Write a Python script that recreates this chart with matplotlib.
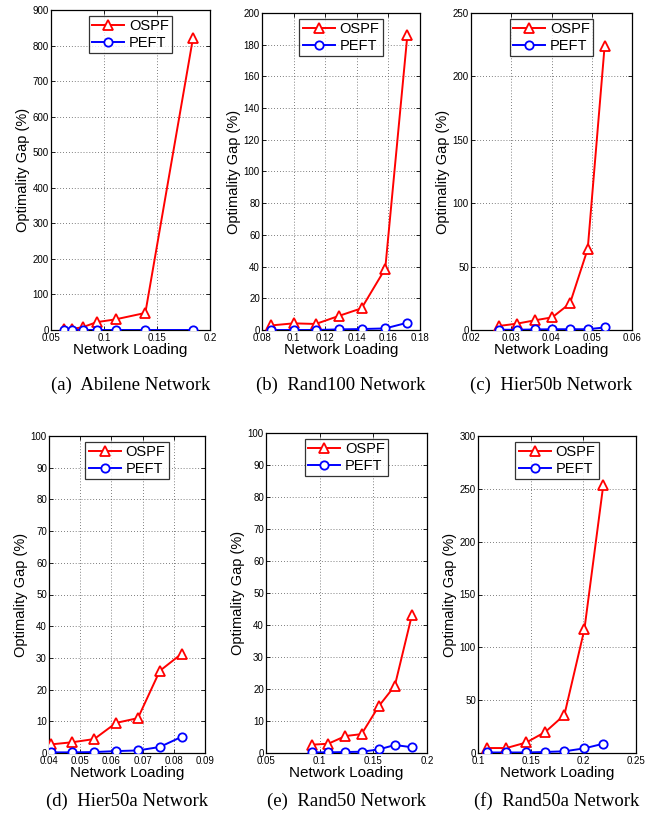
import matplotlib
matplotlib.use("Agg")
import matplotlib.pyplot as plt
from matplotlib.ticker import FormatStrFormatter, MultipleLocator
import numpy as np

plt.rcParams['font.family'] = ['Liberation Sans', 'DejaVu Sans']

# ---------------- data ----------------
captions = ["(a)  Abilene Network", "(b)  Rand100 Network", "(c)  Hier50b Network",
            "(d)  Hier50a Network", "(e)  Rand50 Network", "(f)  Rand50a Network"]

abilene_x = [0.062, 0.070, 0.080, 0.093, 0.111, 0.139, 0.184]
abilene_ospf = [2, 3, 8, 22, 30, 48, 822]
abilene_peft = [0, 0, 0, 0, 0, 0, 0]

rand100_x = [0.086, 0.100, 0.114, 0.129, 0.143, 0.158, 0.172]
rand100_ospf = [2.9, 4.2, 3.8, 9.0, 13.7, 38.7, 186]
rand100_peft = [0, 0, 0, 0.4, 0.6, 1.0, 4.6]

hier50b_x = [0.027, 0.0314, 0.0358, 0.0402, 0.0446, 0.049, 0.0532]
hier50b_ospf = [3.2, 5, 7.6, 10, 21, 64, 224]
hier50b_peft = [0.2, 0.2, 0.4, 0.6, 0.6, 0.6, 2.0]

hier50a_x = [0.0405, 0.0475, 0.0545, 0.0615, 0.0685, 0.0755, 0.0825]
hier50a_ospf = [2.7, 3.4, 4.4, 9.5, 11, 25.9, 31.3]
hier50a_peft = [0.2, 0.2, 0.3, 0.6, 0.8, 1.9, 5.1]

rand50_x = [0.093, 0.108, 0.124, 0.139, 0.155, 0.170, 0.186]
rand50_ospf = [2.6, 2.9, 5.3, 5.9, 14.6, 21, 43.2]
rand50_peft = [0.2, 0.2, 0.3, 0.4, 1.1, 2.5, 1.8]

rand50a_x = [0.109, 0.127, 0.146, 0.164, 0.182, 0.201, 0.219]
rand50a_ospf = [4.7, 4.7, 10, 20, 36, 117, 254]
rand50a_peft = [0.5, 0.5, 0.5, 1.0, 1.6, 4.4, 8.8]

series = [
    (abilene_x, abilene_ospf, abilene_peft),
    (rand100_x, rand100_ospf, rand100_peft),
    (hier50b_x, hier50b_ospf, hier50b_peft),
    (hier50a_x, hier50a_ospf, hier50a_peft),
    (rand50_x, rand50_ospf, rand50_peft),
    (rand50a_x, rand50a_ospf, rand50a_peft),
]

# axis settings: (xmin, xmax, xstep, ymax, ystep)
axis_cfg = [
    (0.05, 0.2, 0.05, 900, 100),
    (0.08, 0.18, 0.02, 200, 20),
    (0.02, 0.06, 0.01, 250, 50),
    (0.04, 0.09, 0.01, 100, 10),
    (0.05, 0.2, 0.05, 100, 10),
    (0.1, 0.25, 0.05, 300, 50),
]

# pixel boxes (left, right, top, bottom)
W, H = 652, 823
boxes = [
    (51, 210, 10, 330),
    (262, 420, 13, 330),
    (471, 632, 13, 330),
    (49, 205, 436, 753),
    (266, 427, 433, 753),
    (478, 636, 436, 753),
]

fig = plt.figure(figsize=(W / 100, H / 100), dpi=100)

for i in range(6):
    l, r, t, b = boxes[i]
    ax = fig.add_axes([l / W, 1 - b / H, (r - l) / W, (b - t) / H])
    x, o, p = series[i]
    xmin, xmax, xs, ymax, ys = axis_cfg[i]
    ax.plot(x, o, color='red', lw=1.4, marker='^', ms=6.5, mfc='white', mec='red',
            mew=1.3, label='OSPF', zorder=3)
    ax.plot(x, p, color='blue', lw=1.4, marker='o', ms=6, mfc='white', mec='blue',
            mew=1.3, label='PEFT', zorder=3)
    ax.set_xlim(xmin, xmax)
    ax.set_ylim(0, ymax)
    ax.xaxis.set_major_locator(MultipleLocator(xs))
    ax.yaxis.set_major_locator(MultipleLocator(ys))
    ax.xaxis.set_major_formatter(FormatStrFormatter('%g'))
    ax.yaxis.set_major_formatter(FormatStrFormatter('%g'))
    ax.grid(True, linestyle=(0, (1, 2.5)), color='#555555', lw=0.6)
    ax.tick_params(direction='in', top=True, right=True, labelsize=7, length=3,
                   width=0.6, pad=1.5)
    ax.tick_params(axis='x', pad=2.2)
    for s in ax.spines.values():
        s.set_linewidth(0.9)
    ax.set_xlabel('Network Loading', fontsize=11, labelpad=0)
    ax.set_ylabel('Optimality Gap (%)', fontsize=10.5, labelpad=2)
    leg = ax.legend(loc='upper center', fontsize=10.5, frameon=True, fancybox=False,
                    edgecolor='black', handlelength=2.2, handletextpad=0.3,
                    borderpad=0.25, labelspacing=0.15, borderaxespad=0.4)
    leg.get_frame().set_linewidth(0.9)
    cx = (l + r) / 2 / W
    cy = 1 - (385 if i < 3 else 801) / H
    fig.text(cx, cy, captions[i], ha='center', va='center', fontsize=13.5,
             family=['Liberation Serif', 'DejaVu Serif'])

fig.savefig('out.png', dpi=100)
